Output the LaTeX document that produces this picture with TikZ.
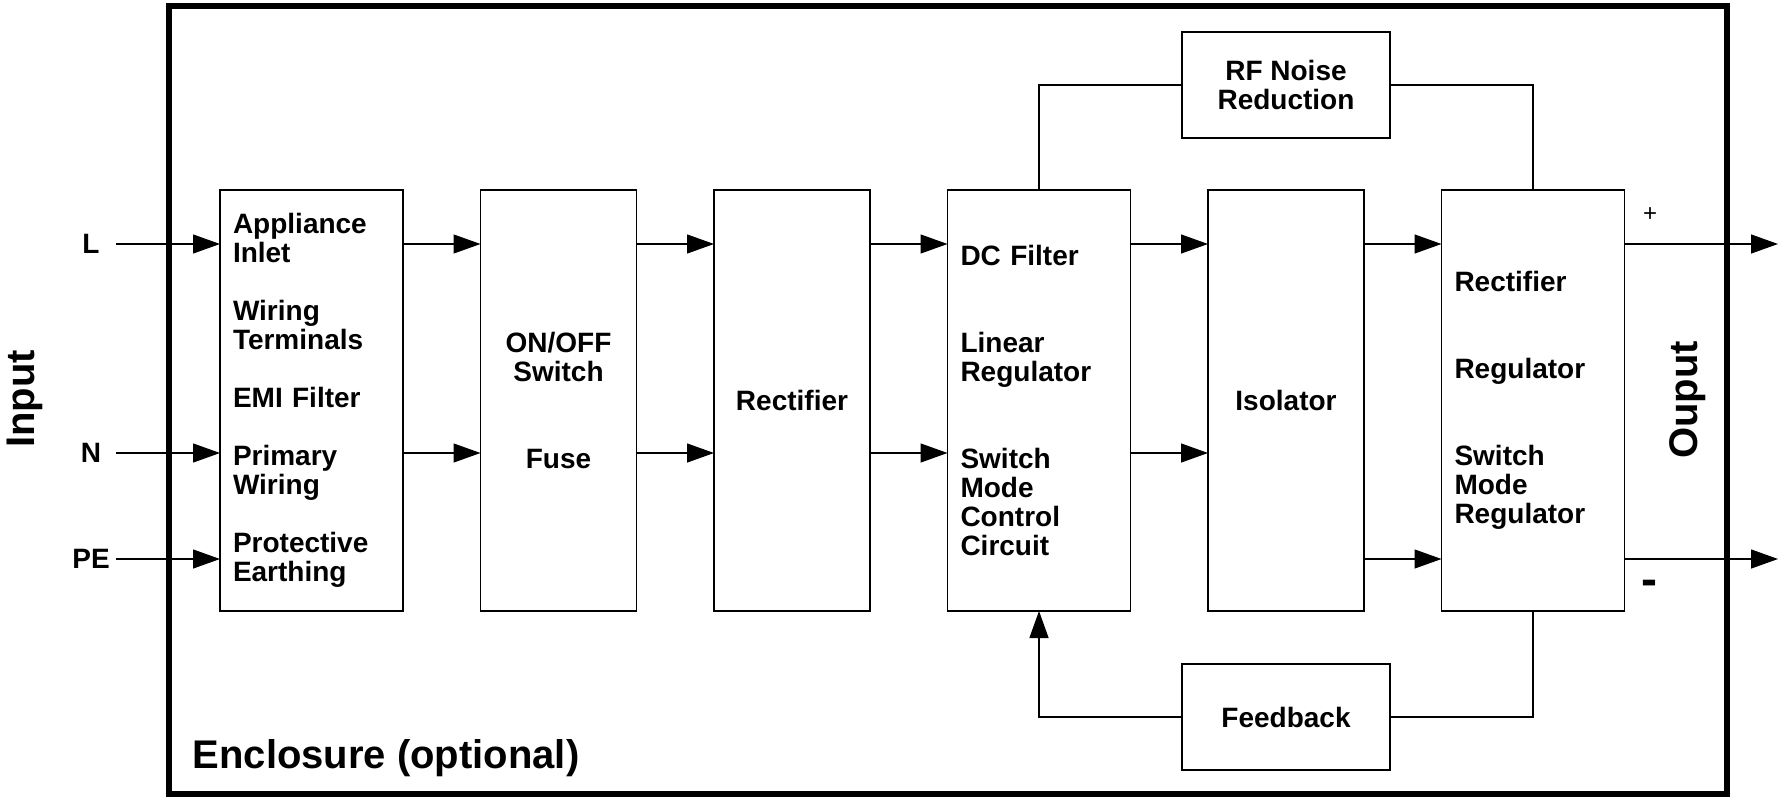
\documentclass[tikz,border=0pt]{standalone}
\usepackage{fontspec}
\setmainfont{Liberation Sans}
\usetikzlibrary{positioning,arrows.meta}

\begin{document}
\begin{tikzpicture}[x=1pt,y=-1pt,line width=1.3pt,
		>={Triangle[length=27pt,width=19pt]},
		blk/.style={draw,minimum height=421pt,inner xsep=13pt,inner ysep=0pt,outer sep=0pt,
			font=\fontsize{28}{29}\selectfont\bfseries},
		wide/.style={blk,text width=157pt,align=left},
		narrow/.style={blk,text width=130pt,align=center},
		side/.style={draw,minimum width=208pt,minimum height=106pt,outer sep=0pt,align=center,
			font=\fontsize{28}{29}\selectfont\bfseries},
		lbl/.style={inner sep=0pt,font=\fontsize{28}{29}\selectfont\bfseries},
		big/.style={inner sep=0pt,font=\fontsize{40}{40}\selectfont\bfseries}]
	\useasboundingbox (0,0) rectangle (1781,797);
	
	% enclosure
	\draw[line width=6pt] (168.5,6.5) rectangle (1727,793.5);
	\node[big,anchor=base west] (encl) at (192,768) {Enclosure (optional)};
	\node[big,rotate=90] (inp) at (25,399) {Input};
	\node[big,rotate=90] (outp) at (1688,400) {Ouput};
	
	% main chain
	\node[wide] (b1) at (311.5,400.5) {Appliance\\Inlet\\[29pt]Wiring\\Terminals\\[29pt]EMI Filter\\[29pt]Primary\\Wiring\\[29pt]Protective\\Earthing};
	\node[narrow, right=77.5pt of b1] (b2) {ON/OFF\\Switch\\[58pt]Fuse};
	\node[narrow, right=77.5pt of b2] (b3) {Rectifier};
	\node[wide, right=77.5pt of b3] (b4) {DC Filter\\[58pt]Linear\\Regulator\\[58pt]Switch\\Mode\\Control\\Circuit};
	\node[narrow, right=77.5pt of b4] (b5) {Isolator};
	\node[wide, right=77.5pt of b5] (b6) {Rectifier\\[58pt]Regulator\\[58pt]Switch\\Mode\\Regulator};
	\node[side, above=52pt of b5] (rf) {RF Noise\\Reduction};
	\node[side, below=53pt of b5] (fb) {Feedback};
	
	% rows
	\coordinate (rL) at (0,244);
	\coordinate (rN) at (0,453);
	\coordinate (rP) at (0,559);
	
	% inputs
	\node[lbl] (L) at (91,244) {L};
	\node[lbl] (N) at (91,453) {N};
	\node[lbl] (PE) at (91,559) {PE};
	\coordinate (inL) at (116,244);
	\coordinate (inN) at (116,453);
	\coordinate (inP) at (116,559);
	\draw[->] (inL) -- (b1.west |- rL);
	\draw[->] (inN) -- (b1.west |- rN);
	\draw[->] (inP) -- (b1.west |- rP);
	
	\foreach \a/\b in {b1/b2,b2/b3,b3/b4,b4/b5,b5/b6}
		\draw[->] (\a.east |- rL) -- (\b.west |- rL);
	\foreach \a/\b in {b1/b2,b2/b3,b3/b4,b4/b5}
		\draw[->] (\a.east |- rN) -- (\b.west |- rN);
	\draw[->] (b5.east |- rP) -- (b6.west |- rP);
	
	% outputs
	\coordinate (outP) at (1778,244);
	\coordinate (outM) at (1778,559);
	\draw[->] (b6.east |- rL) -- (outP);
	\draw[->] (b6.east |- rP) -- (outM);
	\node[inner sep=0pt,font=\fontsize{24}{24}\selectfont] (plus) at (1650,215) {+};
	\node[inner sep=0pt,font=\fontsize{48}{48}\selectfont\bfseries] (minus) at (1649,588) {-};
	
	% noise reduction and feedback loop
	\draw (b4.north) |- (rf.west);
	\draw (rf.east) -| (b6.north);
	\draw (b6.south) |- (fb.east);
	\draw[->] (fb.west) -| (b4.south);
\end{tikzpicture}
\end{document}
